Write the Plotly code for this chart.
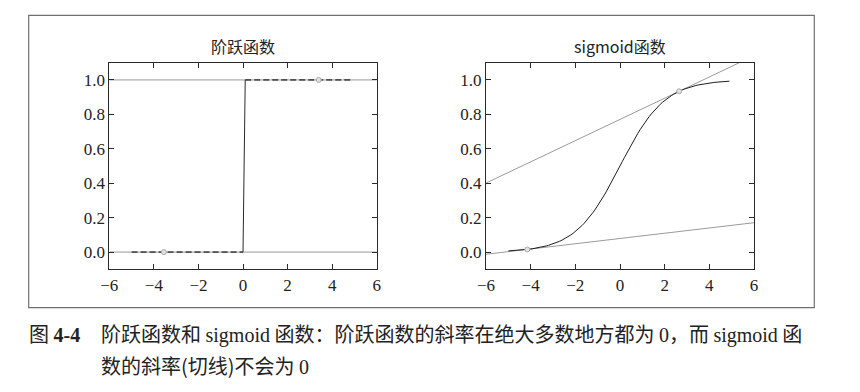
import numpy as np
import plotly.graph_objects as go

# ---------------- data ----------------
X_SAMPLES = np.arange(-5.0, 5.0, 0.1)          # sample points used in both panels
STEP_MARK_X = [-3.55, 3.4]                      # marked points on step function
TANGENT_X = [-4.15, 2.65]                       # tangent points on sigmoid
X_TICKS = [-6, -4, -2, 0, 2, 4, 6]
Y_TICKS = [0.0, 0.2, 0.4, 0.6, 0.8, 1.0]
X_RANGE = [-6, 6]
Y_RANGE = [-0.1, 1.1]
TITLES = ["阶跃函数", "sigmoid函数"]


def step(x):
    return (np.asarray(x) > 0).astype(float)


def sigmoid(x):
    return 1.0 / (1.0 + np.exp(-np.asarray(x, dtype=float)))


# ---------------- styling ----------------
SERIF = "Liberation Serif"
CJK = "Noto Sans CJK SC"
AX_COLOR = "#2a2a2a"
W, H = 860, 392

fig = go.Figure()

# ----- left panel: step function -----
ys = step(X_SAMPLES)
for lvl in [0.0, 1.0]:
    fig.add_trace(go.Scatter(x=X_RANGE, y=[lvl, lvl], mode="lines",
                             line=dict(color="#c4c4c4", width=1.6),
                             xaxis="x", yaxis="y", showlegend=False, hoverinfo="skip"))
low = X_SAMPLES[ys == 0]
high = X_SAMPLES[ys == 1]
DASH = dict(color="#505050", width=1.6, dash="6px,3px")
fig.add_trace(go.Scatter(x=low, y=step(low), mode="lines", line=DASH,
                         xaxis="x", yaxis="y", showlegend=False))
fig.add_trace(go.Scatter(x=high, y=step(high), mode="lines", line=DASH,
                         xaxis="x", yaxis="y", showlegend=False))
jump = [low[-1], high[0]]
fig.add_trace(go.Scatter(x=jump, y=step(jump), mode="lines",
                         line=dict(color="#2a2a2a", width=1.0),
                         xaxis="x", yaxis="y", showlegend=False))
fig.add_trace(go.Scatter(x=STEP_MARK_X, y=step(STEP_MARK_X), mode="markers",
                         marker=dict(size=5, color="#e2e2e2", line=dict(color="#a8a8a8", width=1)),
                         xaxis="x", yaxis="y", showlegend=False))

# ----- right panel: sigmoid with tangents -----
for tx in TANGENT_X:
    s = float(sigmoid(tx))
    slope = s * (1 - s)
    lx = np.array(X_RANGE, dtype=float)
    fig.add_trace(go.Scatter(x=lx, y=s + slope * (lx - tx), mode="lines",
                             line=dict(color="#9a9a9a", width=1.0),
                             xaxis="x2", yaxis="y2", showlegend=False))
fig.add_trace(go.Scatter(x=X_SAMPLES, y=sigmoid(X_SAMPLES), mode="lines",
                         line=dict(color="#1e1e1e", width=1.0),
                         xaxis="x2", yaxis="y2", showlegend=False))
fig.add_trace(go.Scatter(x=TANGENT_X, y=sigmoid(TANGENT_X), mode="markers",
                         marker=dict(size=5, color="#e2e2e2", line=dict(color="#a8a8a8", width=1)),
                         xaxis="x2", yaxis="y2", showlegend=False))

# ----- axes -----
TICKFONT = dict(family=SERIF, size=17, color="#222")


def xa(domain, anchor):
    return dict(domain=domain, anchor=anchor, range=X_RANGE, automargin=False,
                tickmode="array", tickvals=X_TICKS,
                ticktext=[("\u2212" if v < 0 else "") + str(abs(v)) for v in X_TICKS],
                ticks="inside", ticklen=5, tickwidth=1, tickcolor=AX_COLOR,
                showline=True, linecolor=AX_COLOR, linewidth=1, mirror="ticks",
                showgrid=False, zeroline=False, tickfont=TICKFONT)


def ya(domain, anchor):
    return dict(domain=domain, anchor=anchor, range=Y_RANGE, automargin=False,
                tickmode="array", tickvals=Y_TICKS,
                ticktext=[f"{v:.1f}" for v in Y_TICKS],
                ticks="inside", ticklen=5, tickwidth=1, tickcolor=AX_COLOR,
                showline=True, linecolor=AX_COLOR, linewidth=1, mirror="ticks",
                showgrid=False, zeroline=False, tickfont=TICKFONT)


YD = [1 - 269.3 / H, 1 - 62.7 / H]
XD1 = [109.3 / W, 376.7 / W]
XD2 = [486.0 / W, 754.0 / W]

fig.update_layout(
    template="none",
    width=W, height=H,
    margin=dict(l=0, r=0, t=0, b=0, pad=0),
    paper_bgcolor="white", plot_bgcolor="white",
    font=dict(family=SERIF, size=17, color="#222"),
    xaxis=xa(XD1, "y"), yaxis=ya(YD, "x"),
    xaxis2=xa(XD2, "y2"), yaxis2=ya(YD, "x2"),
    showlegend=False,
)

# titles
for title, xd in zip(TITLES, [XD1, XD2]):
    fig.add_annotation(text=title, x=(xd[0] + xd[1]) / 2, y=1 - 46 / H,
                       xref="paper", yref="paper", showarrow=False,
                       xanchor="center", yanchor="middle",
                       font=dict(family=CJK, size=16, color="#222"))

# outer frame
fig.add_shape(type="rect", xref="paper", yref="paper",
              x0=28.7 / W, x1=814.3 / W, y0=1 - 307.7 / H, y1=1 - 15.3 / H,
              line=dict(color="#707070", width=1.2), fillcolor="rgba(0,0,0,0)")

# caption
def lat(t, bold=False):
    w = "bold" if bold else "normal"
    return f'<span style="font-family:{SERIF};font-weight:{w}">{t}</span>'

CAP = dict(family=CJK, size=20, color="#222")
fig.add_annotation(text="图 " + lat("4-4", True), x=27 / W, y=1 - 333 / H,
                   xref="paper", yref="paper", showarrow=False,
                   xanchor="left", yanchor="middle", font=CAP)
line1 = ("阶跃函数和 " + lat("sigmoid") + " 函数：阶跃函数的斜率在绝大多数地方都为 " + lat("0")
         + "，而 " + lat("sigmoid") + " 函")
line2 = "数的斜率(切线)不会为 " + lat("0")
fig.add_annotation(text=line1, x=99 / W, y=1 - 333 / H,
                   xref="paper", yref="paper", showarrow=False,
                   xanchor="left", yanchor="middle", font=CAP)
fig.add_annotation(text=line2, x=99 / W, y=1 - 365 / H,
                   xref="paper", yref="paper", showarrow=False,
                   xanchor="left", yanchor="middle", font=CAP)

fig.write_html("out.html")
